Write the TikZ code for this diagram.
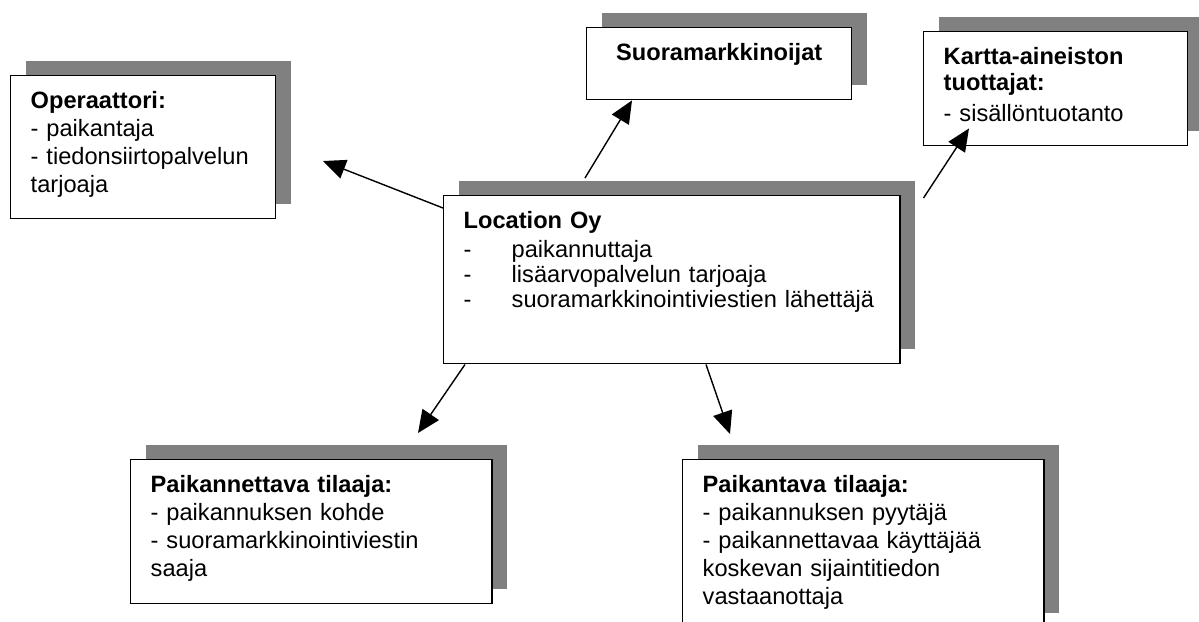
\documentclass[tikz,border=0pt]{standalone}
\usepackage{fontspec}
\setmainfont{Liberation Sans}
\usetikzlibrary{shadows,arrows.meta,calc}
\definecolor{shadowgray}{RGB}{128,128,128}
\tikzset{card/.style={draw=black, line width=1pt, fill=white, anchor=north west,
  align=left, inner xsep=0.5cm, inner ysep=0pt, text height=0.825cm,
  font=\fontsize{16.8}{19.8}\selectfont,
  drop shadow={shadow xshift=0.375cm, shadow yshift=0.375cm, fill=shadowgray, opacity=1}},
%arrow between the boxes
link/.style={line width=1pt, -{Triangle[length=16pt,width=14pt]}}}
\newcommand{\dashitem}[1]{\makebox[1.2cm][l]{-}#1}

\begin{document}
\begin{tikzpicture}[x=0.025cm, y=-0.025cm]
\useasboundingbox (0,0) rectangle (1199,621);

\node[card, text width=5.625cm, text depth=2.75cm] (oper) at (10,75)
  {\textbf{Operaattori:}\\- paikantaja\\- tiedonsiirtopalvelun\\tarjoaja};
\node[card, text width=5.625cm, text depth=0.975cm, align=center] (suora) at (586,27)
  {\textbf{Suoramarkkinoijat}};
\node[card, text width=5.6cm, text depth=2.025cm] (kartta) at (923,31)
  {\textbf{Kartta-aineiston}\\[-1.5pt]\textbf{tuottajat:}\\[2pt]- sisällöntuotanto};
\node[card, text width=10.4cm, text depth=3.375cm] (loc) at (443,195)
  {\textbf{Location Oy}\\[0.5pt]\dashitem{paikannuttaja}\\[-2pt]\dashitem{lisäarvopalvelun tarjoaja}\\[-2pt]\dashitem{suoramarkkinointiviestien lähettäjä}};
\node[card, text width=8.025cm, text depth=2.775cm] (paikannettava) at (130,459)
  {\textbf{Paikannettava tilaaja:}\\- paikannuksen kohde\\- suoramarkkinointiviestin\\saaja};
\node[card, text width=8.025cm, text depth=3.375cm] (paikantava) at (682,459)
  {\textbf{Paikantava tilaaja:}\\- paikannuksen pyytäjä\\- paikannettavaa käyttäjää\\koskevan sijaintitiedon\\vastaanottaja};

% free ends of the arrows
\coordinate (operend) at (323,161);
\coordinate (nettavaend) at (418,433);
\coordinate (tavaend) at (730,434);

\draw[link] ($(loc.north west)+(0,13)$) -- (operend);
\draw[link] ($(loc.north west)+(142,-17)$) -- ($(suora.south west)+(46,0)$);
\draw[link] ($(loc.north east)+(23,3)$) -- ($(kartta.south west)+(46,-18)$);
\draw[link] ($(loc.south west)+(22,0)$) -- (nettavaend);
\draw[link] ($(loc.south west)+(263,0)$) -- (tavaend);
\end{tikzpicture}
\end{document}
